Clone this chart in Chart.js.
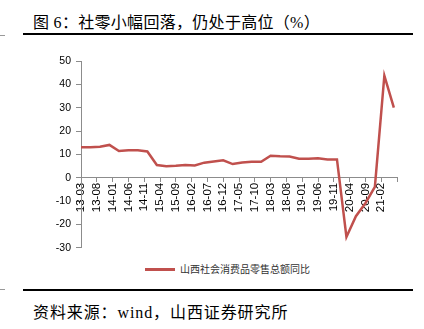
<!DOCTYPE html>
<html>
<head>
<meta charset="utf-8">
<script src="https://cdn.jsdelivr.net/npm/chart.js@4/dist/chart.umd.min.js"></script>
<style>
  html, body { margin: 0; padding: 0; background: #fff; }
  body { width: 424px; height: 329px; position: relative; overflow: hidden; }
  #title { position: absolute; left: 33px; top: 9px; font: 16px "Liberation Serif", "Noto Sans CJK SC", serif; color: #000; white-space: nowrap; letter-spacing: 0.3px; }
  .rule { position: absolute; background: #000; }
  .stub { position: absolute; background: #999; height: 1px; left: 0; width: 5px; }
  #wrap { position: absolute; left: 0; top: 50px; width: 424px; height: 209px; }
  #legend { position: absolute; left: 145px; top: 261px; font: 10px "Noto Sans CJK SC", sans-serif; color: #333; white-space: nowrap; }
  #legend .sw { display: inline-block; width: 30px; height: 2.5px; background: #C0504D; vertical-align: middle; margin-right: 5px; position: relative; top: -1px; }
  #source { position: absolute; left: 33px; top: 299px; font: 16px "Liberation Serif", "Noto Sans CJK SC", serif; color: #000; white-space: nowrap; letter-spacing: 0.9px; }
</style>
</head>
<body>
<div id="title">图 6：社零小幅回落，仍处于高位（%）</div>
<div class="rule" style="left:23px; top:33px; width:390px; height:2px;"></div>
<div class="stub" style="top:35px;"></div>
<div id="wrap"><canvas id="c"></canvas></div>
<div id="legend"><span class="sw"></span>山西社会消费品零售总额同比</div>
<div class="rule" style="left:23px; top:289px; width:390px; height:1.5px;"></div>
<div class="stub" style="top:289px;"></div>
<div id="source">资料来源：wind，山西证券研究所</div>
<script>
// Quarterly observation months (YY-MM)
const periods = [
  "13-03","13-06","13-09","13-12",
  "14-03","14-06","14-09","14-12",
  "15-03","15-06","15-09","15-12",
  "16-03","16-06","16-09","16-12",
  "17-03","17-06","17-09","17-12",
  "18-03","18-06","18-09","18-12",
  "19-03","19-06","19-09","19-12",
  "20-03","20-06","20-09","20-12",
  "21-03","21-06"
];
// 山西社会消费品零售总额同比 (%)
const retailYoY = [
  13.1, 13.1, 13.3, 14.1,
  11.5, 11.8, 11.8, 11.3,
  5.5, 5.0, 5.2, 5.5,
  5.3, 6.5, 7.0, 7.5,
  5.9, 6.6, 6.9, 6.9,
  9.5, 9.2, 9.1, 8.2,
  8.2, 8.4, 7.9, 7.9,
  -25.4, -16.5, -10.9, -3.9,
  43.8, 30.1
];
// X-axis tick labels (every 5 months)
const tickLabels = [
  "13-03","13-08","14-01","14-06","14-11","15-04","15-09","16-02","16-07","16-12",
  "17-05","17-10","18-03","18-08","19-01","19-06","19-11","20-04","20-09","21-02"
];
const seriesName = "山西社会消费品零售总额同比";

const startLabel = periods[0];
function monthIndex(lbl) {
  const [y, m] = lbl.split("-").map(Number);
  const [y0, m0] = startLabel.split("-").map(Number);
  return (y - y0) * 12 + (m - m0);
}
const tickMap = {};
tickLabels.forEach(l => { tickMap[monthIndex(l)] = l; });
const points = periods.map((p, i) => ({ x: monthIndex(p), y: retailYoY[i] }));

const axisColor = "#8c8c8c";
new Chart(document.getElementById("c"), {
  type: "line",
  data: {
    datasets: [{
      label: seriesName,
      data: points,
      borderColor: "#C0504D",
      borderWidth: 2.5,
      pointRadius: 0,
      tension: 0,
      fill: false
    }]
  },
  options: {
    responsive: true,
    maintainAspectRatio: false,
    animation: false,
    layout: { padding: { left: 0, right: 27, top: 10, bottom: 10 } },
    plugins: { legend: { display: false }, tooltip: { enabled: false } },
    scales: {
      x: {
        type: "linear",
        position: { y: 0 },
        min: 0,
        max: 100,
        border: { color: axisColor, width: 1 },
        grid: { display: true, drawOnChartArea: false, drawTicks: true, tickLength: 4, color: axisColor },
        ticks: {
          stepSize: 5,
          autoSkip: false,
          minRotation: 90,
          maxRotation: 90,
          padding: 1,
          color: "#000",
          font: { family: "'Liberation Sans', Arial, sans-serif", size: 11.5 },
          callback: v => (tickMap[v] !== undefined ? tickMap[v] : "")
        }
      },
      y: {
        min: -30,
        max: 50,
        border: { color: axisColor, width: 1 },
        grid: { display: true, drawOnChartArea: false, drawTicks: true, tickLength: 5, color: axisColor },
        ticks: {
          stepSize: 10,
          padding: 5,
          color: "#000",
          font: { family: "'Liberation Sans', Arial, sans-serif", size: 10.5 }
        },
        afterFit: s => { s.width = 81; }
      }
    }
  }
});
</script>
</body>
</html>
